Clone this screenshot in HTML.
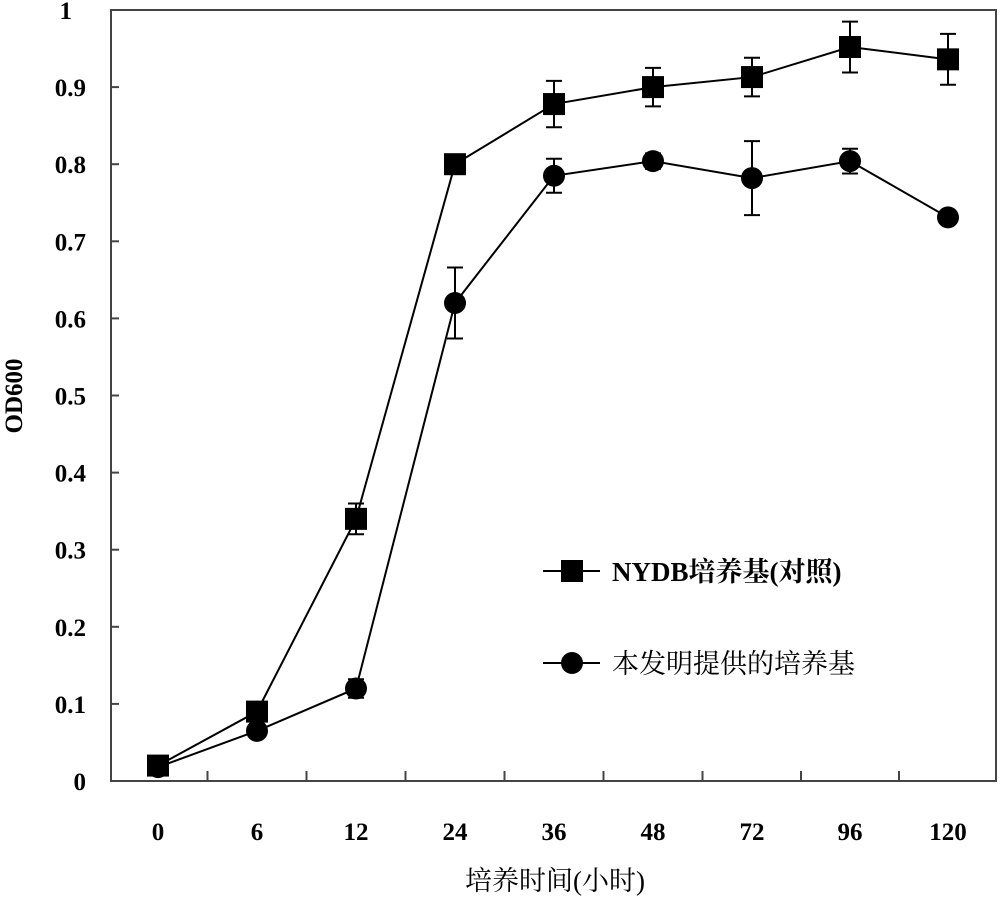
<!DOCTYPE html>
<html><head><meta charset="utf-8"><style>body{margin:0;background:#fff}svg{display:block}</style></head><body>
<svg id="s" width="1000" height="899" xmlns="http://www.w3.org/2000/svg" font-family="Liberation Serif, Noto Serif CJK SC, serif">
<rect x="111" y="10" width="885" height="771" fill="none" stroke="#444" stroke-width="2"/>
<g id="g"></g>
<text x="22" y="396" transform="rotate(-90 22 396)" text-anchor="middle" font-size="25" font-weight="bold">OD600</text>
<text x="555" y="890" text-anchor="middle" font-size="27" font-family="Liberation Serif, Noto Serif CJK SC, serif">培养时间(小时)</text>
<line x1="543" y1="571" x2="600" y2="571" stroke="#000" stroke-width="2"/>
<rect x="561" y="560" width="22" height="22" fill="#000"/>
<text x="612" y="581" font-size="27" font-weight="bold">NYDB培养基(对照)</text>
<line x1="543" y1="663" x2="600" y2="663" stroke="#000" stroke-width="2"/>
<circle cx="572" cy="663" r="11" fill="#000"/>
<text x="612" y="673" font-size="27">本发明提供的培养基</text>
</svg>
<script>
var g=document.getElementById('g'),h='';
var X=[158,257,356,455,554,653,752,850,948];
function Y(v){return 781-v*771}
for(var i=0;i<=10;i++){var y=Y(i/10);h+='<line x1="111" y1="'+y+'" x2="119" y2="'+y+'" stroke="#444" stroke-width="2"/>';
h+='<text x="'+(i==10?72:86)+'" y="'+(y+9)+'" text-anchor="end" font-size="25" font-weight="bold">'+(i==0?'0':i==10?'1':'0.'+i)+'</text>';}
var lab=['0','6','12','24','36','48','72','96','120'];
for(var i=0;i<9;i++){h+='<text x="'+X[i]+'" y="840" text-anchor="middle" font-size="25" font-weight="bold">'+lab[i]+'</text>';
if(i<8){var bx=(X[i]+X[i+1])/2;h+='<line x1="'+bx+'" y1="781" x2="'+bx+'" y2="771" stroke="#444" stroke-width="2"/>';}}
var A=[0.02,0.09,0.34,0.80,0.878,0.90,0.913,0.952,0.936],Ae=[0,0,0.02,0,0.03,0.025,0.025,0.033,0.033];
var B=[0.018,0.065,0.12,0.62,0.785,0.804,0.782,0.804,0.731],Be=[0,0,0.012,0.046,0.022,0.01,0.048,0.016,0.005];
function ser(D,E,sq){var p='';for(var i=0;i<9;i++)p+=(i?'L':'M')+X[i]+' '+Y(D[i]);
h+='<path d="'+p+'" fill="none" stroke="#000" stroke-width="2"/>';
for(var i=0;i<9;i++){var x=X[i],y=Y(D[i]);if(E[i]){var t=Y(D[i]+E[i]),b=Y(D[i]-E[i]);
h+='<path d="M'+x+' '+t+'V'+b+'M'+(x-8)+' '+t+'H'+(x+8)+'M'+(x-8)+' '+b+'H'+(x+8)+'" stroke="#000" stroke-width="2"/>';}
h+=sq?'<rect x="'+(x-11)+'" y="'+(y-11)+'" width="22" height="22"/>':'<circle cx="'+x+'" cy="'+y+'" r="11"/>';}}
ser(B,Be,false);ser(A,Ae,true);
g.innerHTML=h;
</script>
</body></html>
